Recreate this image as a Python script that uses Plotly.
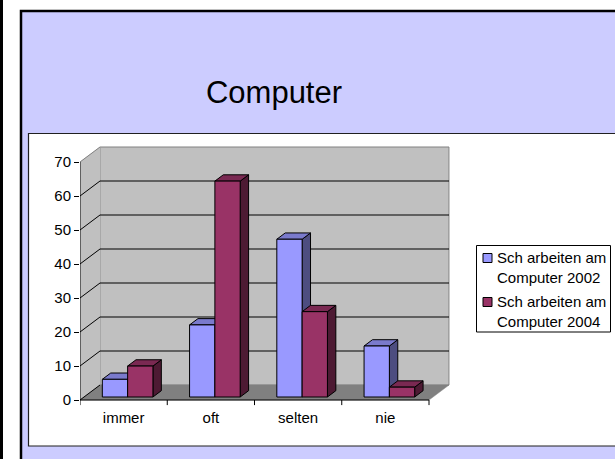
import plotly.graph_objects as go

# ---------------- data ----------------
categories = ["immer", "oft", "selten", "nie"]
series_names = ["Sch arbeiten am<br>Computer 2002", "Sch arbeiten am<br>Computer 2004"]
values_2002 = [5.2, 21.2, 46.4, 15.0]
values_2004 = [9.1, 63.5, 25.1, 2.9]
y_ticks = [0, 10, 20, 30, 40, 50, 60, 70]
title_text = "Computer"

# ---------------- style / layout constants ----------------
W, H = 615, 459
FONT = "Liberation Sans, Arial, sans-serif"
PX_X0, UX = 80.0, 87.25      # pixel of x=0, pixels per category unit
PX_Y0, UY = 400.0, 3.4       # pixel of y=0, pixels per value unit
DX, DY = 20.0 / UX, 15.0 / UY  # oblique depth of the 3D box (data units)
Y_MIN, Y_MAX = -2.0, 70 + DY + 0.3
X_MAX = len(categories) + DX + 0.01
GAP, BW = 0.21, 0.29         # gap and bar width in category units
F0, F1 = 0.2, 0.62           # bar depth start / end (fraction of box depth)

FRONT = ["#9999FF", "#993366"]
TOP = ["#7A7ACC", "#7A2952"]
SIDE = ["#4D4D80", "#4D1A33"]

fig = go.Figure()


def poly(xs, ys, fill, lc="black", lw=1.0):
    fig.add_trace(go.Scatter(
        x=list(xs) + [xs[0]], y=list(ys) + [ys[0]], mode="lines",
        fill="toself", fillcolor=fill, line=dict(color=lc, width=lw),
        hoverinfo="skip", showlegend=False))


def lines(segs, color, width=1.0):
    xs, ys = [], []
    for (x0, y0, x1, y1) in segs:
        xs += [x0, x1, None]
        ys += [y0, y1, None]
    fig.add_trace(go.Scatter(x=xs, y=ys, mode="lines",
                             line=dict(color=color, width=width),
                             hoverinfo="skip", showlegend=False))


n = len(categories)
vmax = y_ticks[-1]
# walls and floor
poly([DX, n + DX, n + DX, DX], [DY, DY, vmax + DY, vmax + DY], "#C0C0C0", "#808080", 1)
poly([0, DX, DX, 0], [0, DY, vmax + DY, vmax], "#C0C0C0", "#C0C0C0", 0.5)
poly([0, n, n + DX, DX], [0, 0, DY, DY], "#808080", "#808080", 0.5)
# gridlines on back wall
lines([(DX, v + DY, n + DX, v + DY) for v in y_ticks[1:-1]], "black", 1)
# diagonal tick connectors on side wall
lines([(0, v, DX, v + DY) for v in y_ticks[:-1]], "black", 1)
lines([(0, vmax, DX, vmax + DY)], "#808080", 1)
# front axes
lines([(0, 0, 0, vmax)], "black", 1)
lines([(0, 0, n, 0)], "black", 1)
lines([(i, 0, i, -1.5) for i in range(n + 1)], "black", 1)

# bars
a, b = F0 * DX, F0 * DY
c, d = F1 * DX, F1 * DY
for i in range(n):
    for s, vals in enumerate([values_2002, values_2004]):
        v = vals[i]
        x0 = i + GAP + s * BW
        x1 = x0 + BW
        poly([x1 + a, x1 + c, x1 + c, x1 + a], [b, d, v + d, v + b], SIDE[s])
        poly([x0 + a, x1 + a, x1 + c, x0 + c], [v + b, v + b, v + d, v + d], TOP[s])
        poly([x0 + a, x1 + a, x1 + a, x0 + a], [b, b, v + b, v + b], FRONT[s])

# ---------------- page decorations ----------------
def px_x(p):
    return p / W


def px_y(p):
    return 1 - p / H


shapes = [
    dict(type="rect", xref="paper", yref="paper", x0=px_x(0), x1=px_x(3), y0=-0.01, y1=1.01,
         fillcolor="black", line=dict(width=0), layer="below"),
    dict(type="rect", xref="paper", yref="paper", x0=px_x(21), x1=1.05, y0=-0.05, y1=px_y(11),
         fillcolor="#CCCCFF", line=dict(color="black", width=2.5), layer="below"),
    dict(type="rect", xref="paper", yref="paper", x0=px_x(28.5), x1=1.05, y0=px_y(446), y1=px_y(133.5),
         fillcolor="white", line=dict(color="#202020", width=1.2), layer="below"),
    # legend box
    dict(type="rect", xref="paper", yref="paper", x0=px_x(476.5), x1=px_x(610.5), y0=px_y(332), y1=px_y(245.5),
         fillcolor="white", line=dict(color="black", width=1), layer="above"),
]
legend_rows = [258, 302]
annotations = []
for s, name in enumerate(series_names):
    cy = legend_rows[s]
    shapes.append(dict(type="rect", xref="paper", yref="paper",
                       x0=px_x(483), x1=px_x(492), y0=px_y(cy + 4.5), y1=px_y(cy - 4.5),
                       fillcolor=FRONT[s], line=dict(color="black", width=1), layer="above"))
    annotations.append(dict(xref="paper", yref="paper", x=px_x(495), y=px_y(cy + 9),
                            xanchor="left", yanchor="middle", text=name, showarrow=False,
                            align="left", font=dict(family=FONT, size=15, color="black")))

fig.update_layout(
    width=W, height=H, autosize=False,
    margin=dict(l=0, r=0, t=0, b=0),
    paper_bgcolor="white", plot_bgcolor="rgba(0,0,0,0)",
    showlegend=False,
    title=dict(text=title_text, x=px_x(274), y=px_y(92), xanchor="center", yanchor="middle",
               font=dict(family=FONT, size=31, color="black")),
    xaxis=dict(range=[0, X_MAX],
               domain=[px_x(PX_X0), px_x(PX_X0 + X_MAX * UX)],
               tickmode="array", tickvals=[i + 0.5 for i in range(n)], ticktext=categories,
               ticks="", showgrid=False, zeroline=False, showline=False,
               tickfont=dict(family=FONT, size=15, color="black"), fixedrange=True),
    yaxis=dict(range=[Y_MIN, Y_MAX],
               domain=[px_y(PX_Y0 - Y_MIN * UY), px_y(PX_Y0 - Y_MAX * UY)],
               tickmode="array", tickvals=y_ticks, ticks="outside", ticklen=5,
               tickcolor="black", tickwidth=1, showgrid=False, zeroline=False, showline=False,
               tickfont=dict(family=FONT, size=15, color="black"), fixedrange=True),
    shapes=shapes, annotations=annotations,
)

fig.write_html("out.html", config={"displayModeBar": False},
               post_script="document.body.style.margin='0';document.body.style.overflow='hidden';")
